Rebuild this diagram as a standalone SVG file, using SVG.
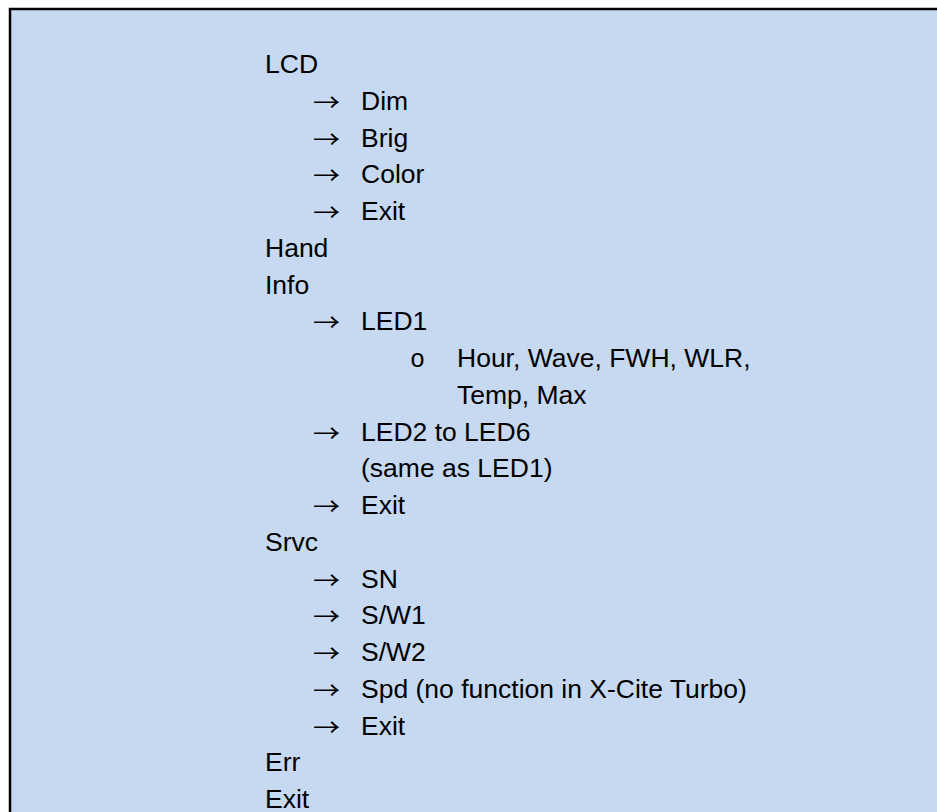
<svg xmlns="http://www.w3.org/2000/svg" width="937" height="812" viewBox="0 0 937 812">
<style>
.t{font-family:"Liberation Sans",Arial,sans-serif;font-size:26.5px;fill:#000}
.a{font-family:"Noto Sans CJK JP","DejaVu Sans",sans-serif;font-size:24px;fill:#000}
.b{font-family:"Liberation Mono",monospace;font-size:25px;fill:#000}
</style>
<rect x="10" y="9" width="940" height="820" fill="#C6D9F1" stroke="#000" stroke-width="2.5"/>
<g id="lcd"><text class="t" x="265" y="73">LCD</text></g>
<g id="lcd-dim"><text class="a" x="313" y="110.75" textLength="27" lengthAdjust="spacingAndGlyphs">→</text><text class="t" x="361" y="109.75">Dim</text></g>
<g id="lcd-brig"><text class="a" x="313" y="147.5" textLength="27" lengthAdjust="spacingAndGlyphs">→</text><text class="t" x="361" y="146.5">Brig</text></g>
<g id="lcd-color"><text class="a" x="313" y="184.25" textLength="27" lengthAdjust="spacingAndGlyphs">→</text><text class="t" x="361" y="183.25">Color</text></g>
<g id="lcd-exit"><text class="a" x="313" y="221" textLength="27" lengthAdjust="spacingAndGlyphs">→</text><text class="t" x="361" y="220">Exit</text></g>
<g id="hand"><text class="t" x="265" y="256.75">Hand</text></g>
<g id="info"><text class="t" x="265" y="293.5">Info</text></g>
<g id="info-led1"><text class="a" x="313" y="331.25" textLength="27" lengthAdjust="spacingAndGlyphs">→</text><text class="t" x="361" y="330.25">LED1</text></g>
<g id="info-led1-items"><text class="b" x="410" y="367">o</text><text class="t" x="457" y="367">Hour, Wave, FWH, WLR,</text><text class="t" x="457" y="403.75">Temp, Max</text></g>
<g id="info-led2"><text class="a" x="313" y="441.5" textLength="27" lengthAdjust="spacingAndGlyphs">→</text><text class="t" x="361" y="440.5">LED2 to LED6</text><text class="t" x="361" y="477.25">(same as LED1)</text></g>
<g id="info-exit"><text class="a" x="313" y="515" textLength="27" lengthAdjust="spacingAndGlyphs">→</text><text class="t" x="361" y="514">Exit</text></g>
<g id="srvc"><text class="t" x="265" y="550.75">Srvc</text></g>
<g id="srvc-sn"><text class="a" x="313" y="588.5" textLength="27" lengthAdjust="spacingAndGlyphs">→</text><text class="t" x="361" y="587.5">SN</text></g>
<g id="srvc-sw1"><text class="a" x="313" y="625.25" textLength="27" lengthAdjust="spacingAndGlyphs">→</text><text class="t" x="361" y="624.25">S/W1</text></g>
<g id="srvc-sw2"><text class="a" x="313" y="662" textLength="27" lengthAdjust="spacingAndGlyphs">→</text><text class="t" x="361" y="661">S/W2</text></g>
<g id="srvc-spd"><text class="a" x="313" y="698.75" textLength="27" lengthAdjust="spacingAndGlyphs">→</text><text class="t" x="361" y="697.75">Spd (no function in X-Cite Turbo)</text></g>
<g id="srvc-exit"><text class="a" x="313" y="735.5" textLength="27" lengthAdjust="spacingAndGlyphs">→</text><text class="t" x="361" y="734.5">Exit</text></g>
<g id="err"><text class="t" x="265" y="771.25">Err</text></g>
<g id="exit"><text class="t" x="265" y="807.5">Exit</text></g>
<g id="connectors"></g>
</svg>
